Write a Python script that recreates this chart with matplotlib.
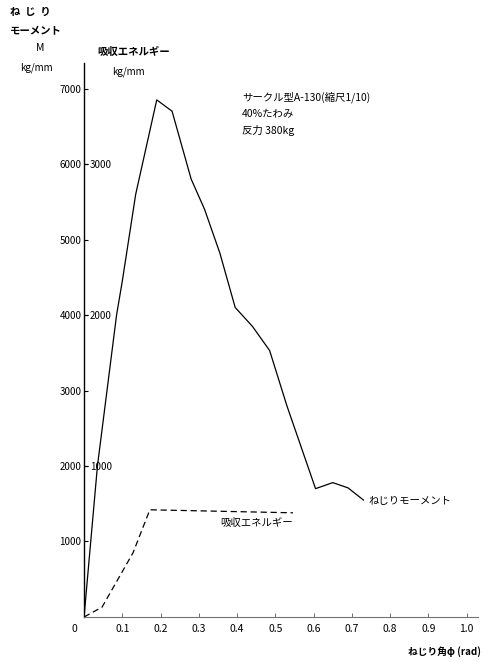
import matplotlib
matplotlib.use("Agg")
import matplotlib.pyplot as plt

plt.rcParams["font.family"] = ["Noto Sans CJK JP", "DejaVu Sans"]

# ねじり角 [rad] vs ねじりモーメント [kg/mm]
angle_m = [0, 0.035, 0.06, 0.085, 0.10, 0.135, 0.19, 0.23, 0.28, 0.315,
           0.355, 0.395, 0.44, 0.485, 0.53, 0.605, 0.65, 0.69, 0.73]
moment = [0, 2000, 3000, 4000, 4450, 5600, 6850, 6700, 5800, 5400,
          4820, 4100, 3850, 3530, 2800, 1700, 1780, 1710, 1550]

# ねじり角 [rad] vs 吸収エネルギー [kg/mm]
angle_e = [0, 0.047, 0.128, 0.172, 0.546]
energy = [0, 65, 425, 710, 690]

x_ticks = [0.1, 0.2, 0.3, 0.4, 0.5, 0.6, 0.7, 0.8, 0.9, 1.0]
m_ticks = [1000, 2000, 3000, 4000, 5000, 6000, 7000]
e_ticks = [1000, 2000, 3000]

M_TOP = 7340

fig = plt.figure(figsize=(4.83, 6.62), dpi=100)
ax = fig.add_axes([0.174, 0.068, 0.816, 0.837])

ax.plot(angle_m, moment, color="black", lw=0.9)
ax.set_xlim(0, 1.03)
ax.set_ylim(0, M_TOP)
ax.set_xticks(x_ticks)
ax.set_xticklabels([f"{t:.1f}" for t in x_ticks])
ax.set_yticks(m_ticks)
ax.tick_params(axis="y", direction="in", length=3, width=0.8, labelsize=7, pad=2)
ax.tick_params(axis="x", direction="in", length=3, width=0.6, labelsize=7.5, pad=5,
               color="0.35")
for s in ("top", "right"):
    ax.spines[s].set_visible(False)
ax.spines["left"].set_linewidth(1.0)
ax.spines["bottom"].set_color("0.45")
ax.spines["bottom"].set_linewidth(0.8)
ax.annotate("0", xy=(0, 0), xytext=(-7, -9), textcoords="offset points",
            ha="center", va="center", fontsize=7.5)

# energy scale sits on the same spine, labels to the right of it
ax2 = ax.twinx()
ax2.set_ylim(0, M_TOP / 2)
ax2.spines["right"].set_position(("axes", 0))
ax2.spines["right"].set_visible(False)
for s in ("top", "left", "bottom"):
    ax2.spines[s].set_visible(False)
ax2.set_yticks(e_ticks)
ax2.tick_params(axis="y", direction="out", length=3, width=0.8, labelsize=7, pad=1)
ax2.plot(angle_e, energy, color="black", lw=0.9, ls=(0, (5, 3)))

ax.annotate("ねじりモーメント", xy=(angle_m[-1], moment[-1]), xytext=(4, -1),
            textcoords="offset points", va="center", fontsize=7.5)
ax2.text(0.355, 620, "吸収エネルギー", va="center", ha="left", fontsize=7.5)

def ftext(px, py, s, **kw):
    fig.text(px / 483, 1 - py / 662, s, va="center", **kw)

ftext(10, 12, "ね  じ  り", fontsize=7.5, weight="bold")
ftext(10, 30, "モーメント", fontsize=7.5, weight="bold")
ftext(40, 48, "M", fontsize=7.5, ha="center")
ftext(36, 68, "kg/mm", fontsize=7, ha="center")
ftext(97, 52, "吸収エネルギー", fontsize=7.5, weight="bold")
ftext(128, 72, "kg/mm", fontsize=7, ha="center")

ftext(242, 97, "サークル型A-130(縮尺1/10)", fontsize=7.5)
ftext(242, 114, "40%たわみ", fontsize=7.5)
ftext(242, 130, "反力 380kg", fontsize=7.5)

ftext(481, 652, "ねじり角φ (rad)", fontsize=7, ha="right", weight="bold")

fig.savefig("out.png", dpi=100)
